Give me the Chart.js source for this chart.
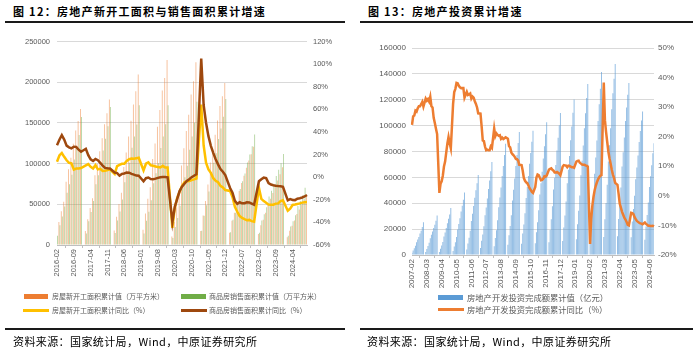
<!DOCTYPE html>
<html>
<head>
<meta charset="utf-8">
<script src="https://cdn.jsdelivr.net/npm/chart.js@4.4.1/dist/chart.umd.min.js"></script>
<style>
  body { margin: 0; background: #fff; width: 700px; height: 349px; position: relative; overflow: hidden; font-family: "Noto Sans CJK SC", sans-serif; }
  .title { position: absolute; top: 5px; font-size: 11px; line-height: 13px; font-weight: bold; letter-spacing: 1.3px; color: #000; white-space: nowrap; }
  .rule { position: absolute; height: 2px; background: #1a1a1a; }
  .src { position: absolute; top: 334px; font-size: 11px; line-height: 14px; letter-spacing: 0.4px; color: #000; white-space: nowrap; }
  .lg { position: absolute; color: #595959; white-space: nowrap; line-height: 1; }
  .sw { position: absolute; }
  canvas { position: absolute; top: 30px; }
</style>
</head>
<body>
<div class="title" style="left:13px">图 12：房地产新开工面积与销售面积累计增速</div>
<div class="title" style="left:368px">图 13：房地产投资累计增速</div>
<div class="rule" style="left:5px;width:340px;top:21px"></div>
<div class="rule" style="left:360px;width:333px;top:21px"></div>

<canvas id="leftChart" width="350" height="262" style="left:0"></canvas>
<canvas id="rightChart" width="350" height="262" style="left:350px"></canvas>

<!-- legends -->
<div class="sw" style="left:24px;top:294px;width:24px;height:5px;background:#ed7d31"></div>
<div class="lg" style="left:52px;top:293px;font-size:7px">房屋新开工面积累计值（万平方米）</div>
<div class="sw" style="left:181px;top:294px;width:25px;height:5px;background:#70ad47"></div>
<div class="lg" style="left:209px;top:293px;font-size:7px">商品房销售面积累计值（万平方米）</div>
<div class="sw" style="left:23px;top:309px;width:26px;height:3px;background:#ffc000"></div>
<div class="lg" style="left:52px;top:307px;font-size:7px">房屋新开工面积累计同比（%）</div>
<div class="sw" style="left:181px;top:309px;width:26px;height:3px;background:#9e480e"></div>
<div class="lg" style="left:209px;top:307px;font-size:7px">商品房销售面积累计同比（%）</div>

<div class="sw" style="left:438px;top:295px;width:25px;height:5px;background:#5b9bd5"></div>
<div class="lg" style="left:467px;top:293px;font-size:8.3px">房地产开发投资完成额累计值（亿元）</div>
<div class="sw" style="left:438px;top:307.5px;width:26px;height:3px;background:#ed7d31"></div>
<div class="lg" style="left:467px;top:305px;font-size:8.3px">房地产开发投资完成额累计同比（%）</div>

<div class="rule" style="left:5px;width:340px;top:328px"></div>
<div class="rule" style="left:360px;width:333px;top:328px"></div>
<div class="src" style="left:13px">资料来源：国家统计局，Wind，中原证券研究所</div>
<div class="src" style="left:367px">资料来源：国家统计局，Wind，中原证券研究所</div>

<script>
// month categories
function monthRange(y0, m0, y1, m1) {
  const out = [];
  let y = y0, m = m0;
  while (y < y1 || (y === y1 && m <= m1)) {
    out.push(y + '-' + String(m).padStart(2, '0'));
    m++;
    if (m > 12) { m = 1; y++; }
  }
  return out;
}
const leftMonths = monthRange(2016, 2, 2024, 10);
const rightMonths = monthRange(2007, 2, 2024, 10);

// 房屋新开工面积累计值（万平方米）, January has no value
const startsArea = [
  15660, 28280, 41570, 53280, 77570, 93020, 107120, 124310, 140510, 152350, 166991,
  null, 17290, 31570, 45360, 57330, 85790, 99440, 115050, 131150, 148370, 161790, 178681,
  null, 17790, 34630, 50300, 64090, 95920, 113760, 133340, 152660, 172560, 188980, 209414,
  null, 18860, 38750, 56890, 70820, 105610, 124570, 145210, 165790, 189810, 205230, 227214,
  null, 10390, 28210, 46420, 61760, 97580, 118960, 139980, 160150, 184880, 201120, 224487,
  null, 17073, 36163, 53920, 74400, 101288, 117892, 135502, 152944, 170643, 182820, 198895,
  null, 14990, 29830, 39740, 51630, 66420, 76140, 85150, 94770, 103720, 111630, 120587,
  null, 13569, 24121, 31002, 39723, 49880, 56969, 63891, 72123, 79177, 86940, 95376,
  null, 9429, 17402, 23510, 30090, 38023, 43731, 49511, 56051, 61227
];
// 商品房销售面积累计值（万平方米）
const salesArea = [
  11230, 24310, 35050, 47410, 64340, 74580, 86290, 105170, 120550, 135270, 157349,
  null, 14050, 29050, 40550, 54190, 74700, 85770, 97250, 116000, 130430, 145950, 169408,
  null, 14620, 30100, 41080, 55770, 77160, 89370, 101140, 119370, 133300, 148000, 171654,
  null, 14100, 29830, 40960, 54870, 75770, 88210, 100530, 119250, 133430, 148290, 171558,
  null, 8470, 21980, 33050, 48120, 69410, 83090, 97220, 117100, 133430, 150220, 176086,
  null, 17360, 36010, 48950, 65590, 88640, 100960, 112670, 130330, 143040, 157430, 179433,
  null, 15700, 31050, 39770, 50740, 68920, 78180, 87890, 101420, 111180, 121250, 135837,
  null, 15130, 29950, 37640, 46440, 59520, 66560, 73950, 84810, 92580, 100510, 111735,
  null, 11370, 22670, 29250, 36640, 47920, 54000, 60700, 70280, 77930
];
// 房屋新开工面积累计同比（%）
const startsYoY = [
  13.7, 19.2, 21.4, 18.0, 14.9, 12.7, 12.2, 6.7, 7.6, 7.6, 8.1,
  null, 10.4, 11.6, 9.1, 7.6, 10.6, 6.9, 7.4, 5.5, 5.6, 6.2, 7.0,
  null, 2.9, 9.7, 10.9, 11.8, 11.8, 14.4, 15.9, 16.4, 16.3, 16.8, 17.2,
  null, 6.0, 11.9, 13.1, 10.5, 10.1, 9.5, 8.9, 8.6, 10.0, 8.6, 8.5,
  null, -44.9, -27.2, -18.4, -12.8, -7.6, -4.5, -3.6, -3.4, -2.6, -2.0, -1.2,
  null, 64.3, 28.2, 12.8, 6.9, 3.8, -0.9, -3.2, -4.5, -7.7, -9.1, -11.4,
  null, -12.2, -17.5, -26.3, -30.6, -34.4, -36.1, -37.2, -38.0, -37.8, -38.9, -39.4,
  null, -9.4, -19.2, -21.2, -22.6, -24.3, -24.5, -24.4, -23.4, -23.2, -21.2, -20.4,
  null, -29.7, -27.8, -24.6, -24.2, -23.7, -23.2, -22.5, -22.2, -22.0
];
// 商品房销售面积累计同比（%）
const salesYoY = [
  28.2, 33.1, 37.1, 33.2, 27.9, 26.4, 25.5, 26.9, 26.8, 24.3, 22.5,
  null, 25.1, 19.5, 15.7, 14.3, 16.1, 15.0, 12.7, 10.3, 8.2, 7.9, 7.7,
  null, 4.1, 3.6, 1.3, 2.9, 3.3, 4.2, 4.0, 2.9, 2.2, 1.4, 1.3,
  null, -3.6, -0.9, -0.3, -1.6, -1.8, -1.3, -0.6, -0.1, 0.1, 0.2, -0.1,
  null, -39.9, -26.3, -19.3, -12.3, -8.4, -5.8, -3.3, -1.8, 0.0, 1.3, 2.6,
  null, 104.9, 63.8, 48.1, 36.3, 27.7, 21.5, 15.9, 11.3, 7.2, 4.8, 1.9,
  null, -9.6, -13.8, -20.9, -23.6, -22.2, -23.1, -23.0, -22.2, -22.3, -23.3, -24.3,
  null, -3.6, -1.8, -0.4, -0.9, -5.3, -6.5, -7.1, -7.5, -7.8, -8.0, -8.5,
  null, -20.5, -19.4, -20.2, -20.3, -19.0, -18.6, -18.0, -17.1, -15.8
];

// 房地产开发投资完成额累计值（亿元）
const investValue = [
  1786, 3549, 5239, 7155, 9760, 11967, 13947, 16523, 18696, 21627, 25280,
  null, 2374, 4692, 6952, 9437, 13029, 15593, 18117, 20885, 23295, 26536, 30580,
  null, 2398, 4884, 7293, 10079, 14319, 17402, 20780, 24581, 27931, 31260, 36232,
  null, 3144, 6598, 9933, 13929, 19774, 23876, 28406, 33528, 38126, 42669, 48259,
  null, 4251, 8848, 13340, 18748, 26279, 31898, 37837, 44257, 49983, 55427, 61740,
  null, 5433, 10927, 15835, 22216, 30641, 36810, 43740, 51073, 57680, 64683, 71804,
  null, 6672, 13134, 19176, 26792, 36861, 44356, 52182, 61135, 68754, 77296, 86013,
  null, 7960, 15341, 22321, 30730, 42058, 50433, 59070, 68777, 77279, 86494, 95036,
  null, 8788, 16645, 23660, 32297, 43992, 52602, 61137, 70565, 78825, 87618, 95979,
  null, 9052, 17677, 25363, 34558, 46675, 55390, 64438, 74658, 84028, 93313, 102581,
  null, 9857, 19285, 27722, 37599, 50642, 59766, 69529, 80705, 90582, 100311, 109799,
  null, 10833, 21291, 30578, 41434, 55554, 65862, 76551, 88695, 99368, 110041, 120264,
  null, 12090, 23803, 34217, 46075, 61609, 72843, 84589, 98008, 109603, 121265, 132194,
  null, 10115, 21963, 33103, 45920, 62780, 75325, 88454, 103484, 116556, 128492, 141443,
  null, 13986, 27576, 40240, 54318, 72179, 84895, 98060, 112568, 124934, 136275, 147602,
  null, 14499, 27765, 39154, 52134, 68314, 79462, 90809, 103559, 113945, 123863, 132895,
  null, 13669, 25974, 35514, 45701, 58550, 67717, 76900, 87269, 95922, 104045, 110913,
  null, 11842, 22082, 30928, 40632, 52529, 60877, 69284, 78680, 86309
];
// 房地产开发投资完成额累计同比（%）
const investYoY = [
  24.0, 26.9, 27.2, 28.8, 28.5, 29.6, 30.3, 30.3, 31.0, 31.8, 30.2,
  null, 32.9, 32.2, 32.7, 31.9, 33.5, 30.3, 29.9, 26.4, 24.6, 22.7, 20.9,
  null, 1.0, 4.1, 4.9, 6.8, 9.9, 11.6, 14.7, 17.7, 19.9, 17.8, 16.1,
  null, 31.1, 35.1, 36.2, 38.2, 38.1, 37.2, 36.7, 36.4, 36.5, 36.5, 33.2,
  null, 35.2, 34.1, 34.3, 34.6, 32.9, 33.6, 33.2, 32.0, 31.1, 29.9, 27.9,
  null, 27.8, 23.5, 18.7, 18.5, 16.6, 15.4, 15.6, 15.4, 15.4, 16.7, 16.2,
  null, 22.8, 20.2, 21.1, 20.6, 20.3, 20.5, 19.3, 19.7, 19.2, 19.5, 19.8,
  null, 19.3, 16.8, 16.4, 14.7, 14.1, 13.7, 13.2, 12.5, 12.4, 11.9, 10.5,
  null, 10.4, 8.5, 6.0, 5.1, 4.6, 4.3, 3.5, 2.6, 2.0, 1.3, 1.0,
  null, 3.0, 6.2, 7.2, 7.0, 6.1, 5.3, 5.4, 5.8, 6.6, 6.5, 6.9,
  null, 8.9, 9.1, 9.3, 8.8, 8.5, 7.9, 7.9, 8.1, 7.8, 7.5, 7.0,
  null, 9.9, 10.4, 10.3, 10.2, 9.7, 10.2, 10.1, 9.9, 9.7, 9.7, 9.5,
  null, 11.6, 11.8, 11.9, 11.2, 10.9, 10.6, 10.5, 10.5, 10.3, 10.2, 9.9,
  null, -16.3, -7.7, -3.3, -0.3, 1.9, 3.4, 4.6, 5.6, 6.3, 6.8, 7.0,
  null, 38.3, 25.6, 21.6, 18.3, 15.0, 12.7, 10.9, 8.8, 7.2, 6.0, 4.4,
  null, 3.7, 0.7, -2.7, -4.0, -5.4, -6.4, -7.4, -8.0, -8.8, -9.8, -10.0,
  null, -5.7, -5.8, -6.2, -7.2, -7.9, -8.5, -8.8, -9.1, -9.3, -9.4, -9.6,
  null, -9.0, -9.5, -9.8, -10.1, -10.1, -10.2, -10.2, -10.1, -10.3
];

const tickFont = { family: 'Liberation Sans', size: 7.5 };
const tickColor = '#595959';
const gridColor = '#d9d9d9';

const leftChart = new Chart(document.getElementById('leftChart'), {
  data: {
    labels: leftMonths,
    datasets: [
      { type: 'line', label: '商品房销售面积累计同比（%）', data: salesYoY, yAxisID: 'y1', order: 0,
        borderColor: '#9e480e', borderWidth: 2.5, pointRadius: 0, spanGaps: true, tension: 0 },
      { type: 'line', label: '房屋新开工面积累计同比（%）', data: startsYoY, yAxisID: 'y1', order: 1,
        borderColor: '#ffc000', borderWidth: 2.5, pointRadius: 0, spanGaps: true, tension: 0 },
      { type: 'bar', label: '房屋新开工面积累计值（万平方米）', data: startsArea, yAxisID: 'y', order: 2,
        backgroundColor: 'rgba(237,125,49,0.5)', categoryPercentage: 0.85, barPercentage: 0.9 },
      { type: 'bar', label: '商品房销售面积累计值（万平方米）', data: salesArea, yAxisID: 'y', order: 2,
        backgroundColor: 'rgba(112,173,71,0.5)', categoryPercentage: 0.85, barPercentage: 0.9 }
    ]
  },
  options: {
    responsive: false,
    animation: false,
    devicePixelRatio: 1,
    layout: { padding: { top: 8, left: 0, right: 0, bottom: 0 } },
    plugins: { legend: { display: false }, tooltip: { enabled: false } },
    scales: {
      x: {
        type: 'category', offset: false,
        grid: { drawOnChartArea: false, tickLength: 3, color: '#bfbfbf' },
        border: { color: '#bfbfbf' },
        ticks: {
          autoSkip: false, minRotation: 90, maxRotation: 90, padding: 1,
          color: tickColor, font: tickFont,
          callback: function (v, i) { return i % 7 === 0 ? this.getLabelForValue(v) : null; }
        },
        afterFit: s => { s.height = 47; }
      },
      y: {
        position: 'left', min: 0, max: 250000,
        grid: { color: gridColor, drawTicks: false },
        border: { display: false },
        ticks: { stepSize: 50000, padding: 7, color: tickColor, font: tickFont, callback: v => String(v) },
        afterFit: s => { s.width = 57; }
      },
      y1: {
        position: 'right', min: -60, max: 120,
        grid: { drawOnChartArea: false, drawTicks: false },
        border: { display: false },
        ticks: { stepSize: 20, padding: 6, color: tickColor, font: tickFont, callback: v => v + '%' },
        afterFit: s => { s.width = 43; }
      }
    }
  }
});

const rightFont = { family: 'Liberation Sans', size: 8 };

const rightChart = new Chart(document.getElementById('rightChart'), {
  data: {
    labels: rightMonths,
    datasets: [
      { type: 'line', label: '房地产开发投资完成额累计同比（%）', data: investYoY, yAxisID: 'y1', order: 0,
        borderColor: '#ed7d31', borderWidth: 2.5, pointRadius: 0, spanGaps: true, tension: 0 },
      { type: 'bar', label: '房地产开发投资完成额累计值（亿元）', data: investValue, yAxisID: 'y', order: 1,
        backgroundColor: 'rgba(91,155,213,0.7)', categoryPercentage: 1, barPercentage: 0.8 }
    ]
  },
  options: {
    responsive: false,
    animation: false,
    devicePixelRatio: 1,
    layout: { padding: { top: 18, left: 0, right: 0, bottom: 0 } },
    plugins: { legend: { display: false }, tooltip: { enabled: false } },
    scales: {
      x: {
        type: 'category', offset: false,
        grid: { drawOnChartArea: false, tickLength: 3, color: '#bfbfbf' },
        border: { color: '#bfbfbf' },
        ticks: {
          autoSkip: false, minRotation: 90, maxRotation: 90, padding: 1,
          color: tickColor, font: rightFont,
          callback: function (v, i) { return i % 13 === 0 ? this.getLabelForValue(v) : null; }
        },
        afterFit: s => { s.height = 37; }
      },
      y: {
        position: 'left', min: 0, max: 160000,
        grid: { color: gridColor, drawTicks: false },
        border: { display: false },
        ticks: { stepSize: 20000, padding: 6, color: tickColor, font: rightFont, callback: v => String(v) },
        afterFit: s => { s.width = 62; }
      },
      y1: {
        position: 'right', min: -20, max: 50,
        grid: { drawOnChartArea: false, drawTicks: false },
        border: { display: false },
        ticks: { stepSize: 10, padding: 4, color: tickColor, font: rightFont, callback: v => v + '%' },
        afterFit: s => { s.width = 46; }
      }
    }
  }
});
</script>
</body>
</html>
